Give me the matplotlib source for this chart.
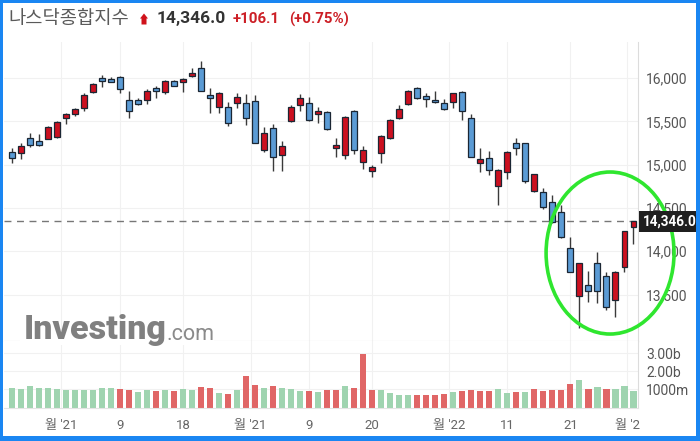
import numpy as np
import matplotlib
matplotlib.use("Agg")
import matplotlib.pyplot as plt
from matplotlib.patches import Ellipse, Polygon, Rectangle
import matplotlib.transforms as mtransforms

plt.rcParams["font.family"] = ["Roboto", "Noto Sans CJK KR", "DejaVu Sans"]

# daily OHLC, 2021-10-22 .. 2022-02-01
opens = [15149, 15130, 15304, 15269, 15299, 15315, 15535, 15581, 15650, 15838,
         16000, 15985, 16015, 15746, 15742, 15746, 15885, 15835, 15962, 15957,
         16020, 16119, 15804, 15669, 15662, 15708, 15711, 15738, 15169, 15423,
         15111, 15503, 15688, 15708, 15588, 15611, 15195, 15111, 15619, 15030,
         14923, 15130, 15311, 15535, 15696, 15881, 15796, 15749, 15708, 15719,
         15842, 15542, 15015, 15080, 14753, 14911, 15253, 15246, 14699, 14680,
         14572, 14456, 14040, 13486, 13610, 13867, 13714, 13437, 13814, 14276]
highs = [15192, 15253, 15368, 15353, 15446, 15498, 15599, 15650, 15823, 15946,
         16035, 16008, 16023, 15850, 15766, 15870, 15911, 15980, 15980, 15997,
         16112, 16196, 15881, 15835, 15726, 15830, 15812, 15804, 15438, 15465,
         15273, 15688, 15812, 15784, 15669, 15622, 15304, 15561, 15625, 15215,
         14995, 15342, 15527, 15688, 15861, 15893, 15823, 15853, 15754, 15830,
         15850, 15581, 15188, 15157, 14946, 15157, 15311, 15253, 14892, 14726,
         14649, 14534, 14167, 13864, 13775, 13994, 13763, 13766, 14239, 14346]
lows = [15022, 15068, 15200, 15215, 15292, 15307, 15465, 15565, 15619, 15830,
        15900, 15950, 15823, 15542, 15690, 15696, 15773, 15815, 15905, 15842,
        16015, 15846, 15592, 15592, 15449, 15650, 15457, 15244, 15149, 14930,
        14930, 15492, 15619, 15503, 15477, 15400, 15091, 15061, 15122, 14953,
        14860, 15022, 15301, 15527, 15688, 15754, 15669, 15717, 15636, 15650,
        15515, 15084, 14918, 14880, 14534, 14834, 15111, 14791, 14687, 14484,
        14329, 14158, 13760, 13110, 13417, 13405, 13321, 13244, 13763, 14083]
closes = [15080, 15215, 15223, 15223, 15434, 15488, 15581, 15642, 15807, 15934,
          15969, 15957, 15870, 15619, 15696, 15853, 15850, 15965, 15911, 15988,
          16054, 15853, 15773, 15830, 15484, 15777, 15542, 15253, 15368, 15084,
          15215, 15669, 15773, 15515, 15622, 15408, 15230, 15553, 15169, 15165,
          14969, 15334, 15515, 15645, 15853, 15773, 15758, 15723, 15642, 15823,
          15619, 15091, 15068, 14938, 14938, 15149, 15188, 14811, 14888, 14507,
          14341, 14161, 13763, 13860, 13544, 13544, 13352, 13763, 14233, 14346]
# volume in billions and bar colour group
volume = [1.09, 1.04, 1.17, 1.07, 1.06, 1.04, 0.98, 0.98, 0.99, 0.99,
          1.06, 1.06, 1.04, 0.99, 0.85, 0.98, 0.94, 0.98, 0.92, 1.04,
          0.98, 1.11, 1.06, 0.81, 0.74, 0.98, 1.76, 1.26, 1.09, 1.17,
          1.06, 1.04, 0.91, 0.89, 0.85, 0.98, 0.98, 1.17, 1.09, 2.98,
          0.98, 0.98, 0.80, 0.72, 0.72, 0.67, 0.67, 0.72, 0.76, 0.85,
          0.94, 0.98, 0.91, 0.89, 1.02, 0.81, 0.85, 0.85, 1.02, 0.94,
          0.98, 0.98, 1.28, 1.54, 1.04, 1.13, 1.04, 1.04, 1.22, 0.91]
vol_dir = ["g"] * 12 + [
    "r", "r", "g", "g", "r", "g", "r", "g", "g", "r",
    "r", "g", "r", "g", "r", "r", "g", "r", "g", "g",
    "g", "r", "g", "r", "r", "g", "r", "r", "r", "g",
    "g", "g", "g", "r", "r", "r", "r", "g", "r", "r",
    "r", "r", "g", "g", "r", "g", "r", "r", "r", "r",
    "r", "g", "r", "g", "r", "g", "g", "g"]

xtick_pos = [5.5, 12, 19, 26.5, 33, 40, 48.5, 55, 62, 68.3]
xtick_lbl = ["월 '21", "9", "18", "월 '21", "9", "20", "월 '22", "11", "21", "월 '2"]
price_ticks = [13500, 14000, 14500, 15000, 15500, 16000]
last_price = 14346.0

W, H = 700, 441
fig = plt.figure(figsize=(7, 4.41), dpi=100)


def px(x0, y0, x1, y1):
    return [x0 / W, 1 - y1 / H, (x1 - x0) / W, (y1 - y0) / H]


ax = fig.add_axes(px(4, 42, 638, 341))
axv = fig.add_axes(px(4, 341, 638, 407.5), sharex=ax)

o, h, l, c = map(np.array, (opens, highs, lows, closes))
idx = np.arange(len(o))
up = c >= o
fill = np.where(up, "#cc1020", "#5b9bd5")
body_lo = np.minimum(o, c)
body_h = np.maximum(np.abs(c - o), 28)

ax.vlines(idx, l, h, color="#3a3a3a", lw=1.0, zorder=2)
ax.bar(idx, body_h, bottom=body_lo, width=0.66, color=fill,
       edgecolor="#1b2633", lw=0.9, zorder=3)

ax.axhline(last_price, color="#777777", lw=1.0, ls=(0, (5, 4)), zorder=1)

vcol = ["#9fd4b0" if d == "g" else "#e06666" for d in vol_dir]
axv.bar(idx, volume, width=0.68, color=vcol, zorder=2)

for a in (ax, axv):
    a.set_xlim(-0.855, 69.5)
    a.grid(True, color="#f1f1f1", lw=0.8)
    a.set_axisbelow(True)
    for s in ("left", "top"):
        a.spines[s].set_visible(False)
    a.spines["right"].set_color("#dcdcdc")
    a.tick_params(length=0, colors="#555555", labelsize=10)
    a.yaxis.tick_right()
ax.spines["bottom"].set_color("#cfcfcf")
axv.spines["bottom"].set_color("#e4e4e4")

ax.set_ylim(12963, 16416)
ax.set_yticks(price_ticks)
ax.set_yticklabels([f"{p:,}" for p in price_ticks])
ax.tick_params(axis="y", pad=6)
ax.tick_params(axis="x", labelbottom=False)

axv.set_ylim(0, 3.69)
axv.set_yticks([1, 2, 3])
axv.set_yticklabels(["1000m", "2.00b", "3.00b"])
axv.tick_params(axis="y", pad=6)
axv.set_xticks(xtick_pos)
axv.set_xticklabels(xtick_lbl)
axv.tick_params(axis="x", pad=8, labelsize=9.5, colors="#666666")

# last price tag
tr = mtransforms.blended_transform_factory(ax.transAxes, ax.transData)
ax.text(1.007, last_price, f"{last_price:,.1f}", transform=tr, ha="left", va="center",
        color="white", fontsize=9.8, weight="bold", clip_on=False, zorder=12,
        bbox=dict(boxstyle="square,pad=0.25", fc="#1f1f1f", ec="none"))

# green highlight ellipse
ax.add_patch(Ellipse((66.4, 13979), 14.2, 1871, fill=False, ec="#2fe62f", lw=2.6,
                     clip_on=False, zorder=11))

# header
fig.text(8 / W, 1 - 19 / H, "나스닥종합지수", fontsize=13.5, color="#5a5a5a", va="center")
arrow = [(144, 13.5), (148, 18.5), (146.5, 18.5), (146.5, 24.5), (141.5, 24.5),
         (141.5, 18.5), (140, 18.5)]
fig.patches.append(Polygon([(x / W, 1 - y / H) for x, y in arrow], closed=True,
                           fc="#d0121b", ec="none", transform=fig.transFigure))
fig.text(157 / W, 1 - 19 / H, "14,346.0", fontsize=12.5, weight="bold", color="#333333",
         va="center")
fig.text(233 / W, 1 - 19 / H, "+106.1", fontsize=10.8, weight="bold", color="#cc1f26",
         va="center")
fig.text(289 / W, 1 - 19 / H, "(+0.75%)", fontsize=10.8, weight="bold", color="#cc1f26",
         va="center")

# watermark (white patch hides the panel divider behind it)
fig.patches.append(Rectangle((20 / W, 1 - 345 / H), 194 / W, 8 / H, fc="white", ec="none",
                             transform=fig.transFigure, zorder=4))
fig.text(24 / W, 1 - 330 / H, "Investing", fontsize=24.5, weight="heavy", color="#808080",
         va="center", zorder=5)
fig.text(166 / W, 1 - 334 / H, ".com", fontsize=15.5, color="#8a8a8a", va="center", zorder=5)

# blue frame
for x0, y0, x1, y1 in [(0, 0, 3, H), (0, 0, W, 3), (696, 0, W, H), (0, 436, W, H)]:
    fig.patches.append(Rectangle((x0 / W, 1 - y1 / H), (x1 - x0) / W, (y1 - y0) / H,
                                 fc="#1a86f2", ec="none", transform=fig.transFigure))

fig.savefig("out.png", dpi=100)
